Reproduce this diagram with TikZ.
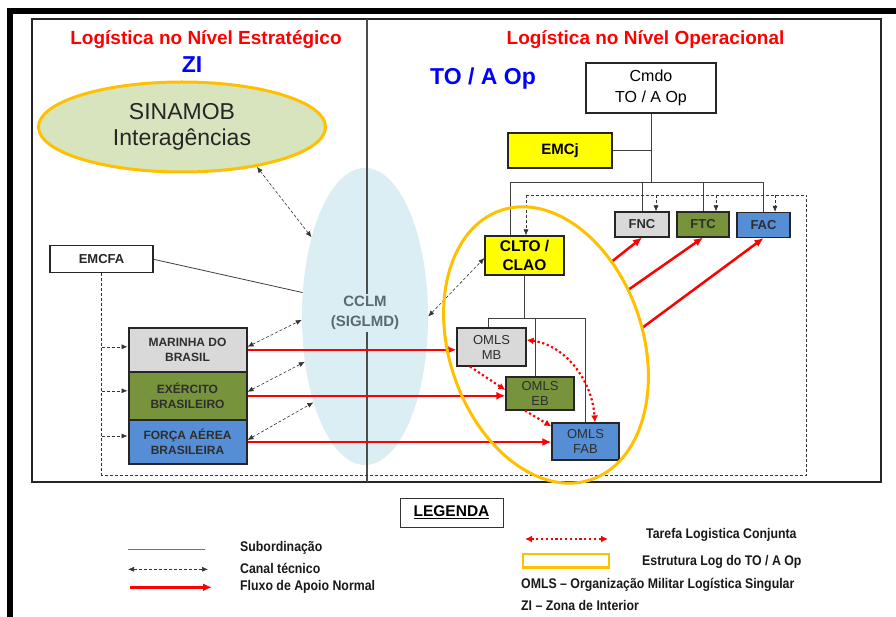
\documentclass[tikz,border=0pt]{standalone}
\usepackage{fontspec}
\setmainfont{Liberation Sans}
\newfontfamily\legfont[FakeStretch=0.88]{Liberation Sans}
\usetikzlibrary{arrows.meta,shapes.geometric}
\definecolor{titred}{HTML}{FF0000}
\definecolor{titblue}{HTML}{0000FF}
\definecolor{sinafill}{HTML}{D7E4BD}
\definecolor{goldc}{HTML}{FFC000}
\definecolor{cclmfill}{HTML}{DAEEF3}
\definecolor{boxgray}{HTML}{D9D9D9}
\definecolor{colOlive}{HTML}{77933C}
\definecolor{boxblue}{HTML}{558ED5}
\definecolor{boxyellow}{HTML}{FFFF00}
\definecolor{cclmtext}{HTML}{5A6A70}
\definecolor{txtdark}{HTML}{2E2E2E}
\definecolor{colRed}{HTML}{FF0000}
\tikzset{
  box/.style={draw=black!85, line width=1.2pt, inner sep=0pt, align=center, text=txtdark},
  armybox/.style={box, line width=2pt, font=\fontsize{12}{15}\selectfont\bfseries},
  omls/.style={box, font=\fontsize{13}{15}\selectfont},
  forca/.style={box, minimum height=25, font=\fontsize{13}{15}\selectfont\bfseries},
  sub/.style={draw=black!75, line width=0.8pt},
  canal/.style={draw=black!80, line width=0.6pt, dash pattern=on 3pt off 2pt},
  canalto/.style={canal, -{Latex[length=6pt,width=5pt]}},
  canaltip/.style={canal, {Latex[length=6pt,width=5pt]}-{Latex[length=6pt,width=5pt]}},
  flux/.style={draw=colRed, line width=2.5pt, -{Latex[length=9pt,width=8pt]}},
  tarefa/.style={draw=colRed, line width=2.2pt, dash pattern=on 2.2pt off 2.6pt},
  tarefato/.style={tarefa, -{Latex[length=7pt,width=7pt]}},
  tarefatip/.style={tarefa, {Latex[length=7pt,width=7pt]}-{Latex[length=7pt,width=7pt]}},
  legtxt/.style={anchor=west, inner sep=0pt, text=black!90, font=\legfont\fontsize{14}{16}\selectfont\bfseries},
  titr/.style={anchor=base, text=titred, font=\fontsize{19}{22}\selectfont\bfseries},
  titb/.style={anchor=base, text=titblue, font=\fontsize{23}{26}\selectfont\bfseries},
}
\begin{document}
\begin{tikzpicture}[x=1pt,y=-1pt]
\useasboundingbox (0,0) rectangle (896,617);
\fill[white] (0,0) rectangle (896,617);
% outer thick frame parts
\fill[black] (7,8) rectangle (896,14);
\fill[black] (7,8) rectangle (13,617);

% CCLM ellipse
\node[ellipse, fill=cclmfill, minimum width=126, minimum height=297, inner sep=0pt] (cclm) at (365,316.5) {};

% inner frame and divider
\draw[line width=1.6pt, draw=black!85] (32,19) rectangle (881,482);
\draw[line width=1.3pt, draw=black!70] (367,19) -- (367,482);
\node[fill=cclmfill, text=cclmtext, font=\fontsize{15}{20}\selectfont\bfseries, align=center, inner sep=2pt] (cclmlbl) at (365,313) {CCLM\\(SIGLMD)};

% titles
\node[titr] (t1) at (206,45) {Logística no Nível Estratégico};
\node[titb] (zi) at (192,72.7) {ZI};
\node[titr] (t2) at (645.5,45) {Logística no Nível Operacional};
\node[titb] (toa) at (483,85) {TO / A Op};

% SINAMOB
\node[ellipse, draw=goldc, line width=3pt, fill=sinafill, minimum width=287, minimum height=90, inner sep=0pt, align=center, font=\fontsize{23}{26.3}\selectfont, text=black!85] (sina) at (182,127) {SINAMOB\\Interagências};

% left side boxes
\node[box, fill=white, minimum width=103, minimum height=27, font=\fontsize{13}{15}\selectfont\bfseries, text=black!85] (emcfa) at (101.5,259.3) {EMCFA};
\node[armybox, fill=boxgray, minimum width=118, minimum height=44] (mar) at (187.5,349.8) {MARINHA DO\\BRASIL};
\node[armybox, fill=colOlive, minimum width=118, minimum height=48] (exe) at (187.5,395.8) {EXÉRCITO\\BRASILEIRO};
\node[armybox, fill=boxblue, minimum width=118, minimum height=44] (fae) at (187.5,442) {FORÇA AÉREA\\BRASILEIRA};

% right side boxes
\node[box, fill=white, minimum width=130, minimum height=50, font=\fontsize{16}{20.7}\selectfont, text=black] (cmdo) at (651,88) {Cmdo\\TO / A Op};
\node[box, fill=boxyellow, minimum width=104, minimum height=35, font=\fontsize{15}{18}\selectfont\bfseries, text=black] (emcj) at (560,150.5) {EMCj};
\node[box, fill=boxyellow, minimum width=79, minimum height=39, font=\fontsize{15.5}{19}\selectfont\bfseries, text=black] (clto) at (524.5,255.5) {CLTO /\\CLAO};
\node[forca, fill=boxgray, minimum width=54] (fnc) at (642,224.5) {FNC};
\node[forca, fill=colOlive, minimum width=52] (ftc) at (703,224.5) {FTC};
\node[forca, fill=boxblue, minimum width=53] (fac) at (763.5,225) {FAC};
\node[omls, fill=boxgray, minimum width=69, minimum height=38] (mb) at (491.5,347) {OMLS\\MB};
\node[omls, fill=colOlive, minimum width=68, minimum height=33] (eb) at (540,393.5) {OMLS\\EB};
\node[omls, fill=boxblue, minimum width=67, minimum height=37] (fab) at (585.5,441.5) {OMLS\\FAB};

% subordination lines
\coordinate (busL) at (510,182);
\draw[sub] (cmdo.south) -- (cmdo.south |- busL);
\draw[sub] (emcj.east) -- (emcj.east -| cmdo.south);
\draw[sub] (busL) -- (busL -| fac.north);
\draw[sub] (busL) -- (busL |- clto.north);
\draw[sub] (fnc.north) -- (fnc.north |- busL);
\draw[sub] (ftc.north) -- (ftc.north |- busL);
\draw[sub] (fac.north) -- (fac.north |- busL);
\coordinate (sb) at (524.5,318);
\draw[sub] (clto.south) -- (sb);
\draw[sub] ([xshift=-3.5pt]mb.north) |- (fab.north |- sb) -- (fab.north);
\draw[sub] ([xshift=-4.3pt]eb.north) -- ([xshift=-4.3pt]eb.north |- sb);
\draw[sub] (emcfa.east) -- (cclm.159);

% canal tecnico tree
\coordinate (dBL) at (101.5,475);
\coordinate (dBR) at (806.7,475);
\coordinate (dTR) at (806.7,195);
\coordinate (dTL) at (526,195);
\draw[canal] (emcfa.south) -- (dBL) -- (dBR) -- (dTR) -- (dTL);
\draw[canalto] (dTL) -- (dTL |- clto.north);
\draw[canalto] ([xshift=14pt]fnc.north |- dTL) -- ([xshift=14pt]fnc.north);
\draw[canalto] ([xshift=13pt]ftc.north |- dTL) -- ([xshift=13pt]ftc.north);
\draw[canalto] ([xshift=11.5pt]fac.north |- dTL) -- ([xshift=11.5pt]fac.north);
\draw[canalto] ([yshift=3pt]mar.west -| dBL) -- ([yshift=3pt]mar.west);
\draw[canalto] ([yshift=5pt]exe.west -| dBL) -- ([yshift=5pt]exe.west);
\draw[canalto] ([yshift=6pt]fae.west -| dBL) -- ([yshift=6pt]fae.west);
\draw[canaltip] ([yshift=3pt]mar.east) -- (cclm.183);
\draw[canaltip] ([yshift=4pt]exe.east) -- (cclm.217);
\draw[canaltip] ([yshift=2pt]fae.east) -- (cclm.239);
\draw[canaltip] (sina.332) -- (cclm.124);
\draw[canaltip] (cclm.east) -- ([yshift=-2.5pt]clto.west);

% red support flows
\draw[flux] (mar.east) -- (mar.east -| mb.west);
\draw[flux] (exe.east) -- (exe.east -| eb.west);
\draw[flux] (fae.east) -- (fae.east -| fab.west);
\coordinate (r1) at (611.7,261.7);
\coordinate (r2) at (628,290);
\coordinate (r3) at (642,328);
\draw[flux] (r1) -- (fnc.south);
\draw[flux] (r2) -- (ftc.south);
\draw[flux] (r3) -- (fac.south);

% joint logistic tasks
\draw[tarefato] ([xshift=-21.5pt]mb.south) -- ([yshift=3.5pt]eb.west);
\draw[tarefato] ([xshift=-15pt]eb.south) -- ([yshift=-4pt]fab.north west);
\draw[tarefatip] ([yshift=7pt]mb.east) .. controls (565,345) and (592,380) .. ([xshift=9.5pt]fab.north);

% estrutura log ellipse
\draw[goldc, line width=3pt, rotate around={18.4:(546,345)}] (546,345) ellipse [x radius=97, y radius=142];

% legend
\node[draw=black!80, line width=0.8pt, minimum width=103, minimum height=29, inner sep=0pt, font=\fontsize{15.5}{18}\selectfont\bfseries] (leg) at (451.5,512.5) {\underline{LEGENDA}};
\coordinate (l1a) at (128,549); \coordinate (l1b) at (205,549);
\draw[draw=black!55, line width=1pt] (l1a) -- (l1b);
\node[legtxt] (l1t) at (240,548) {Subordinação};
\coordinate (l2a) at (128,569.3); \coordinate (l2b) at (208,569.3);
\draw[canaltip] (l2a) -- (l2b);
\node[legtxt] (l2t) at (240,568) {Canal técnico};
\coordinate (l3a) at (130,587.3); \coordinate (l3b) at (212,587.3);
\draw[flux] (l3a) -- (l3b);
\node[legtxt] (l3t) at (240,587) {Fluxo de Apoio Normal};
\coordinate (l4a) at (525,539); \coordinate (l4b) at (608,539);
\draw[tarefatip] (l4a) -- (l4b);
\node[legtxt] (l4t) at (646,535) {Tarefa Logistica Conjunta};
\draw[goldc, line width=2.5pt] (523,554) rectangle (609,567.7);
\node[legtxt] (l5t) at (642,561.7) {Estrutura Log do TO / A Op};
\node[legtxt] (l6t) at (521,585) {OMLS – Organização Militar Logística Singular};
\node[legtxt] (l7t) at (521,605) {ZI – Zona de Interior};
\end{tikzpicture}
\end{document}
